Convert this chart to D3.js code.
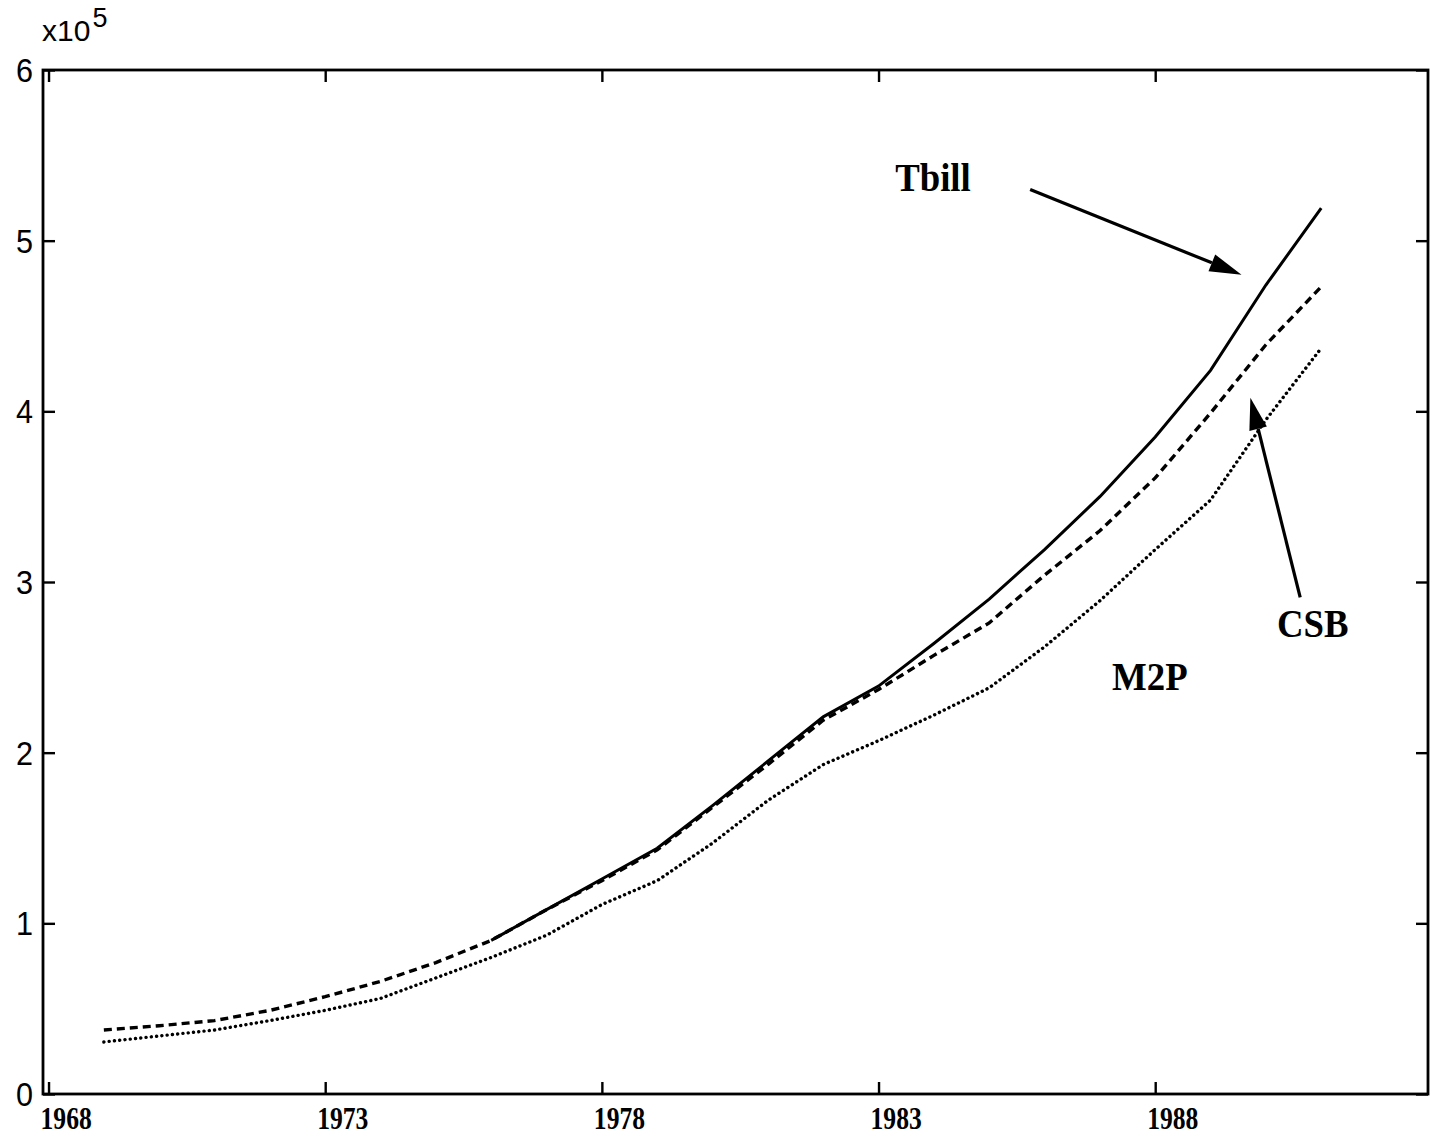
<!DOCTYPE html>
<html>
  <head>
    <meta charset="UTF-8">
    <style>
      html, body { margin: 0; padding: 0; background: #fff; }
      svg { display: block; }
    </style>
    <script src="https://d3js.org/d3.v7.min.js"></script>
  </head>
  <body>
    <div id="viz"></div>
    <script>
      // annual data, values in units of 10^5
      const years = d3.range(1969, 1992);
      const tbillYears = d3.range(1976, 1992);
      const tbill = [0.90, 1.08, 1.26, 1.44, 1.69, 1.95, 2.21, 2.39, 2.64, 2.90, 3.19, 3.50, 3.85, 4.24, 4.74, 5.19];
      const csb = [0.375, 0.40, 0.43, 0.49, 0.57, 0.66, 0.77, 0.90, 1.08, 1.25, 1.43, 1.68, 1.93, 2.19, 2.37, 2.57, 2.76, 3.04, 3.30, 3.61, 3.99, 4.39, 4.73];
      const m2p = [0.305, 0.34, 0.375, 0.43, 0.49, 0.56, 0.68, 0.80, 0.93, 1.11, 1.25, 1.47, 1.72, 1.93, 2.07, 2.22, 2.38, 2.62, 2.89, 3.19, 3.48, 3.95, 4.37];
      const xTicks = [1968, 1973, 1978, 1983, 1988];
      const yTicks = [0, 1, 2, 3, 4, 5, 6];

      // annotations: label position and optional arrow (from x,y to x,y), in data units
      const notes = [
        {label: "Tbill", x: 1983.3, y: 5.29, arrow: [1985.74, 5.30, 1989.56, 4.80]},
        {label: "CSB", x: 1990.20, y: 2.68, arrow: [1990.62, 2.91, 1989.72, 4.08]},
        {label: "M2P", x: 1987.22, y: 2.37, arrow: null}
      ];

      const width = 1433, height = 1139;
      const margin = {top: 70, right: 5, bottom: 45, left: 43};

      const x = d3.scaleLinear()
          .domain([1967.9, 1992.93])
          .range([margin.left, width - margin.right]);
      const y = d3.scaleLinear()
          .domain([0, 6])
          .range([height - margin.bottom, margin.top]);

      const svg = d3.select("#viz")
        .append("svg")
          .attr("width", width)
          .attr("height", height);

      // frame
      svg.append("rect")
          .attr("x", x.range()[0])
          .attr("y", y.range()[1])
          .attr("width", x.range()[1] - x.range()[0])
          .attr("height", y.range()[0] - y.range()[1])
          .attr("fill", "none")
          .attr("stroke", "#000")
          .attr("stroke-width", 2.8);

      // inward ticks on all four sides
      const tick = 12;
      const axisStyle = g => {
        g.select(".domain").remove();
        g.selectAll(".tick line").attr("stroke", "#000").attr("stroke-width", 2.4);
      };
      svg.append("g")
          .attr("transform", `translate(0,${y(0)})`)
          .call(d3.axisBottom(x).tickValues(xTicks).tickSize(-tick).tickFormat(""))
          .call(axisStyle);
      svg.append("g")
          .attr("transform", `translate(0,${y(6)})`)
          .call(d3.axisTop(x).tickValues(xTicks).tickSize(-tick).tickFormat(""))
          .call(axisStyle);
      svg.append("g")
          .attr("transform", `translate(${x.range()[0]},0)`)
          .call(d3.axisLeft(y).tickValues(yTicks).tickSize(-tick).tickFormat(""))
          .call(axisStyle);
      svg.append("g")
          .attr("transform", `translate(${x.range()[1]},0)`)
          .call(d3.axisRight(y).tickValues(yTicks).tickSize(-tick).tickFormat(""))
          .call(axisStyle);

      // x tick labels (serif, condensed)
      svg.append("g")
        .selectAll("text")
        .data(xTicks)
        .join("text")
          .attr("transform", d => `translate(${x(d) - 8},${y(0) + 35}) scale(0.8,1)`)
          .attr("font-family", "'Liberation Serif', 'Times New Roman', serif")
          .attr("font-weight", "bold")
          .attr("font-size", 32)
          .text(d => d);

      // y tick labels
      svg.append("g")
        .selectAll("text")
        .data(yTicks)
        .join("text")
          .attr("transform", d => `translate(33,${y(d) + 12}) scale(0.9,1)`)
          .attr("text-anchor", "end")
          .attr("font-family", "'Liberation Sans', Arial, sans-serif")
          .attr("font-size", 34)
          .text(d => d);

      // exponent
      const expo = svg.append("text")
          .attr("x", 42)
          .attr("y", 41)
          .attr("font-family", "'Liberation Sans', Arial, sans-serif")
          .attr("font-size", 30);
      expo.append("tspan").text("x10");
      expo.append("tspan").attr("dx", 2).attr("dy", -14).attr("font-size", 27).text("5");

      const line = d3.line()
          .x(d => x(d[0]))
          .y(d => y(d[1]));

      svg.append("path")
          .datum(d3.zip(years, m2p))
          .attr("d", line)
          .attr("fill", "none")
          .attr("stroke", "#000")
          .attr("stroke-width", 3.4)
          .attr("stroke-linecap", "round")
          .attr("stroke-dasharray", "0.1,5.2");

      svg.append("path")
          .datum(d3.zip(years, csb))
          .attr("d", line)
          .attr("fill", "none")
          .attr("stroke", "#000")
          .attr("stroke-width", 3.4)
          .attr("stroke-dasharray", "8,5");

      svg.append("path")
          .datum(d3.zip(tbillYears, tbill))
          .attr("d", line)
          .attr("fill", "none")
          .attr("stroke", "#000")
          .attr("stroke-width", 3);

      // annotation labels
      svg.append("g")
        .selectAll("text")
        .data(notes)
        .join("text")
          .attr("transform", d => `translate(${x(d.x)},${y(d.y)}) scale(0.92,1)`)
          .attr("font-family", "'Liberation Serif', 'Times New Roman', serif")
          .attr("font-weight", "bold")
          .attr("font-size", 40)
          .text(d => d.label);

      // arrows
      const arrows = notes.filter(d => d.arrow);
      arrows.forEach(d => {
        const [x0, y0, x1, y1] = [x(d.arrow[0]), y(d.arrow[1]), x(d.arrow[2]), y(d.arrow[3])];
        const a = Math.atan2(y1 - y0, x1 - x0);
        const len = 32, hw = 9;
        const bx = x1 - len * Math.cos(a), by = y1 - len * Math.sin(a);
        svg.append("line")
            .attr("x1", x0).attr("y1", y0)
            .attr("x2", bx).attr("y2", by)
            .attr("stroke", "#000")
            .attr("stroke-width", 3.2);
        svg.append("path")
            .attr("d", `M${x1},${y1}L${bx - hw * Math.sin(a)},${by + hw * Math.cos(a)}L${bx + hw * Math.sin(a)},${by - hw * Math.cos(a)}Z`)
            .attr("fill", "#000");
      });
    </script>
  </body>
</html>
